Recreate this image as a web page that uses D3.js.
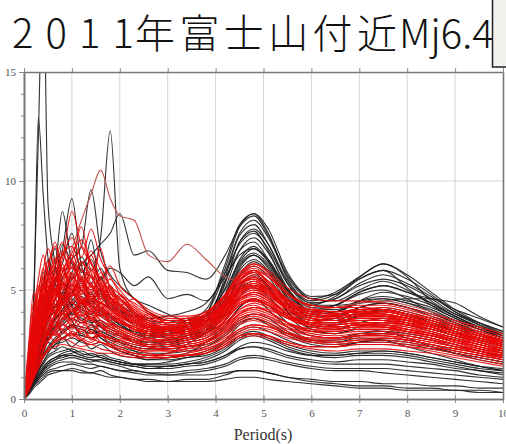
<!DOCTYPE html>
<html>
<head>
<meta charset="utf-8">
<script src="https://cdn.jsdelivr.net/npm/d3@7"></script>
<style>
  body { margin: 0; background: #fff; }
  svg { display: block; }
</style>
</head>
<body>
<svg width="506" height="444"></svg>
<script>
console.log('javascript sourced');

// period grid (s), shared by every spectrum
var periods = [0, 0.1, 0.2, 0.3, 0.4, 0.5, 0.65, 0.8,
  1.0, 1.2, 1.4, 1.6, 1.8, 2.0, 2.3, 2.6, 3.0,
  3.4, 3.8, 4.2, 4.5, 4.8, 5.1, 5.5, 6.0,
  6.5, 7.0, 7.5, 8.0, 8.5, 9.0, 9.5, 10];

var xTicks = [0, 1, 2, 3, 4, 5, 6, 7, 8, 9, 10];
var yTicks = [0, 5, 10, 15];
var yMinorTicks = [0, 1, 2, 3, 4, 5, 6, 7, 8, 9, 10, 11, 12, 13, 14, 15];

var titleParts = ['2011', '年富士山付近', 'Mj6.4'];
var xLabel = 'Period(s)';

// black traces
var blackSpectra = [
  [0,1.5,4.5,12,20,9,6.2,4.5, 3.6,3.0,3.4,2.8,2.5,2.2,2.0,1.8,1.9, 2.1,2.6,3.4,4.2,4.6,4.1,3.3,2.7, 2.6,2.8,2.7,2.4,2.1,1.8,1.5,1.3],
  [0,1.2,4.0,12.9,9.4,6.5,5.0,4.8, 3.9,4.2,3.5,3.1,2.9,2.6,2.2,2.0,2.1, 2.5,3.1,4.3,5.4,5.8,5.1,4.0,3.2, 3.0,3.2,3.1,2.8,2.4,2.1,1.8,1.6],
  [0,0.6,1.3,2.0,2.6,3.1,3.8,4.6, 5.8,6.5,5.9,7.4,12.3,6.0,4.6,4.3,3.9, 3.6,3.8,5.4,6.8,7.2,6.4,5.0,4.1, 4.3,4.8,5.0,4.6,4.0,3.5,3.0,2.6],
  [0,0.8,1.8,2.8,3.6,4.5,5.4,6.8, 9.2,6.1,5.3,6.0,5.1,4.6,3.9,3.6,3.2, 3.4,3.9,6.2,8.0,8.5,7.6,5.5,4.5, 4.8,5.6,6.2,5.7,4.9,4.1,3.5,3.0],
  [0,0.7,1.5,2.4,3.3,3.9,4.6,5.5, 6.4,7.0,9.6,6.8,5.7,5.2,4.6,4.0,3.6, 3.5,3.6,5.6,7.5,8.0,7.1,5.3,4.3, 4.7,5.5,5.9,5.5,4.8,4.0,3.4,2.9],
  [0,1.0,2.2,3.3,4.2,5.0,6.0,8.6, 6.3,5.9,5.6,4.9,4.6,4.1,3.6,3.3,3.0, 3.2,3.5,5.3,7.2,7.7,6.8,5.0,4.1, 4.3,4.9,5.2,4.9,4.4,3.8,3.3,2.9],
  [0,0.6,1.4,2.2,2.9,3.5,4.2,4.9, 5.5,6.2,6.6,7.1,7.6,8.5,6.6,6.8,5.9, 5.8,5.5,6.6,7.9,8.4,7.5,5.7,4.6, 4.5,5.0,5.4,5.0,4.4,3.8,3.3,2.9],
  [0,0.9,1.9,2.7,3.5,4.8,5.5,6.2, 7.6,5.8,6.4,5.5,6.0,5.8,5.2,5.6,4.6, 4.8,4.5,5.8,7.1,7.6,6.9,5.3,4.4, 4.6,5.2,5.5,5.2,4.6,3.9,3.4,3.0],
  [0,0.5,1.1,1.8,2.4,2.9,3.3,3.6, 4.0,4.4,4.0,3.8,3.5,3.3,3.1,3.0,3.1, 3.4,3.9,5.8,7.6,8.2,7.4,5.6,4.6, 4.9,5.6,6.2,5.6,4.5,3.9,3.5,3.1],
  [0,0.6,1.3,2.0,2.7,3.1,3.6,4.1, 4.6,4.2,4.5,4.1,3.8,3.6,3.2,3.1,3.3, 3.6,4.1,6.0,7.9,8.5,7.8,5.8,4.7, 4.8,5.5,5.9,5.1,4.3,3.7,3.3,3.0],
  [0,0.5,1.2,1.9,2.5,3.0,3.4,3.9, 4.3,4.7,4.3,4.0,3.7,3.4,3.0,2.9,3.0, 3.3,3.7,5.4,7.2,7.8,7.1,5.4,4.4, 4.6,5.3,5.7,5.3,4.7,4.0,3.5,3.1],
  [0,0.7,1.5,2.3,3.0,3.7,4.3,4.7, 5.2,5.0,4.6,4.8,4.2,3.9,3.5,3.3,3.2, 3.4,3.8,5.1,6.8,7.4,6.7,5.1,4.2, 4.3,4.9,5.2,4.9,4.6,4.4,3.8,3.3],
  [0,0.6,1.3,1.9,2.5,3.1,3.7,4.0, 4.4,4.1,3.9,4.2,3.8,3.5,3.0,2.8,2.9, 3.2,3.5,4.8,6.4,7.0,6.3,4.9,4.0, 4.0,4.5,4.7,4.5,4.2,3.7,3.2,2.8],
  [0,0.5,1.0,1.6,2.1,2.7,3.2,3.5, 3.9,3.7,3.5,3.6,3.3,3.1,2.8,2.6,2.7, 3.0,3.3,4.5,6.0,6.6,6.0,4.6,3.7, 3.6,4.0,4.2,4.0,3.7,3.3,2.9,2.6],
  [0,0.6,1.2,1.8,2.3,2.8,3.0,3.4, 3.7,3.5,3.6,3.3,3.1,2.9,2.6,2.5,2.6, 2.8,3.1,4.2,5.6,6.1,5.6,4.3,3.5, 3.5,3.9,4.1,3.9,3.5,3.1,2.7,2.4],
  [0,0.4,0.9,1.4,1.9,2.3,2.7,3.0, 3.3,3.2,3.0,3.1,2.9,2.7,2.5,2.4,2.5, 2.7,3.0,3.9,5.1,5.6,5.1,4.0,3.3, 3.2,3.5,3.7,3.6,3.3,2.9,2.6,2.3],
  [0,0.4,0.8,1.3,1.7,2.1,2.5,2.8, 3.0,2.9,2.8,2.9,2.7,2.6,2.4,2.3,2.4, 2.6,2.8,3.6,4.7,5.1,4.7,3.8,3.1, 3.0,3.3,3.5,3.4,3.1,2.8,2.5,2.2],
  [0,0.3,0.7,1.0,1.3,1.5,1.7,1.8, 1.9,1.8,1.7,1.8,1.7,1.6,1.5,1.4,1.4, 1.5,1.6,1.9,2.3,2.4,2.2,1.9,1.7, 1.6,1.6,1.6,1.5,1.4,1.3,1.1,1.0],
  [0,0.3,0.6,0.9,1.1,1.3,1.4,1.5, 1.6,1.5,1.4,1.5,1.4,1.3,1.2,1.1,1.1, 1.2,1.3,1.5,1.8,1.9,1.8,1.6,1.4, 1.3,1.3,1.2,1.1,1.0,0.9,0.8,0.7],
  [0,0.3,0.6,0.8,1.0,1.2,1.3,1.3, 1.4,1.3,1.2,1.3,1.1,1.0,0.9,0.9,0.8, 0.9,0.9,1.1,1.3,1.3,1.2,1.0,0.9, 0.8,0.8,0.7,0.7,0.6,0.6,0.5,0.5],
  [0,0.4,0.8,1.1,1.4,1.6,1.8,1.9, 2.0,1.9,1.8,1.7,1.6,1.5,1.3,1.2,1.1, 1.1,1.1,1.2,1.3,1.3,1.2,1.0,0.8, 0.7,0.6,0.6,0.5,0.5,0.4,0.4,0.3],
  [0,0.4,0.9,1.3,1.6,1.9,2.1,2.2, 2.3,2.1,2.0,2.1,1.9,1.8,1.6,1.5,1.5, 1.6,1.8,2.2,2.7,2.9,2.7,2.3,2.0, 1.9,2.0,2.0,1.9,1.7,1.5,1.3,1.2],
  [0,0.5,1.0,1.5,1.9,2.2,2.5,2.6, 2.8,2.6,2.5,2.6,2.4,2.2,2.0,1.9,1.9, 2.0,2.2,2.7,3.4,3.7,3.4,2.9,2.5, 2.4,2.6,2.7,2.6,2.4,2.1,1.9,1.7],
  [0,0.3,0.7,1.0,1.3,1.6,1.8,2.0, 2.1,2.2,2.0,1.9,1.8,1.7,1.6,1.6,1.7, 1.9,2.1,2.6,3.1,3.3,3.1,2.7,2.4, 2.4,2.6,2.8,2.7,2.5,2.2,2.0,1.8],
  [0,0.4,0.8,1.2,1.5,1.7,1.9,2.0, 2.0,1.9,1.8,1.8,1.7,1.6,1.5,1.4,1.5, 1.6,1.7,2.0,2.4,2.6,2.5,2.2,2.0, 2.0,2.1,2.2,2.1,1.9,1.7,1.5,1.3],
  [0,0.3,0.6,0.9,1.2,1.4,1.6,1.7, 1.7,1.6,1.6,1.5,1.4,1.3,1.3,1.2,1.2, 1.3,1.4,1.6,1.9,2.0,1.9,1.7,1.5, 1.4,1.4,1.4,1.3,1.2,1.1,1.0,0.9],
  [0,0.2,0.5,0.7,0.9,1.1,1.2,1.3, 1.3,1.2,1.2,1.1,1.0,1.0,0.9,0.8,0.8, 0.8,0.8,0.9,1.0,1.0,0.9,0.8,0.7, 0.6,0.5,0.5,0.4,0.4,0.4,0.3,0.3],
  [0,1.0,2.0,3.2,4.5,5.6,6.9,5.4, 5.0,4.4,4.9,4.1,3.8,3.4,3.1,2.9,2.8, 2.9,3.1,4.0,5.0,5.4,5.0,4.1,3.5, 3.5,3.8,4.0,3.8,3.5,3.1,2.8,2.5],
  [0,0.8,1.7,2.6,3.8,4.3,5.2,7.1, 6.2,5.5,7.3,5.0,4.4,4.0,3.5,3.3,3.1, 3.2,3.4,4.6,6.1,6.6,6.1,4.7,3.9, 4.0,4.5,4.9,4.7,4.3,3.8,3.3,2.9],
  [0,1.1,2.5,3.7,5.1,6.4,5.3,4.6, 5.6,5.0,4.3,3.9,3.6,3.3,3.0,2.8,2.7, 2.9,3.2,4.3,5.7,6.3,5.8,4.4,3.6, 3.7,4.2,4.4,4.2,3.8,3.4,3.0,2.7],
  [0,0.9,2.1,3.6,5.8,4.7,4.2,4.9, 4.3,4.0,3.7,3.5,3.2,3.0,2.7,2.6,2.6, 2.8,3.0,3.9,5.2,5.7,5.2,4.0,3.3, 3.4,3.8,4.1,3.9,3.6,3.2,2.9,2.6],
  [0,0.5,1.2,1.8,2.4,2.9,3.3,3.7, 4.0,4.3,4.6,4.4,4.2,4.0,3.8,3.7,3.8, 4.0,4.4,5.6,6.6,6.9,6.3,5.0,4.3, 4.3,4.4,4.5,4.6,4.6,4.1,3.7,3.3],
  [0,0.7,1.6,2.4,3.1,3.7,4.0,4.5, 4.9,5.3,4.8,5.6,4.6,4.3,3.9,3.6,3.5, 3.6,3.9,5.0,6.3,6.9,6.4,5.0,4.1, 4.1,4.5,4.6,4.4,4.1,3.6,3.2,2.9],
  [0,0.5,1.0,1.5,2.0,2.4,2.8,3.1, 3.4,3.3,3.2,3.0,2.8,2.6,2.4,2.3,2.3, 2.4,2.6,3.3,4.2,4.6,4.3,3.5,2.9, 2.8,3.0,3.1,3.0,2.8,2.5,2.2,2.0],
  [0,0.6,1.4,2.2,3.3,4.4,3.9,5.3, 4.2,3.6,3.9,3.3,3.0,2.9,2.6,2.4,2.3, 2.4,2.5,3.0,3.6,3.9,3.7,3.1,2.7, 2.7,2.9,3.0,2.9,2.7,2.4,2.2,1.9],
  [0,0.7,1.5,2.4,3.2,2.7,3.6,3.0, 3.4,2.9,3.2,2.8,2.6,2.4,2.2,2.1,2.1, 2.2,2.4,2.9,3.5,3.7,3.5,3.0,2.6, 2.5,2.6,2.6,2.5,2.3,2.1,1.9,1.7],
  [0,0.5,1.1,1.6,2.1,2.6,2.3,2.8, 2.4,2.7,2.3,2.5,2.2,2.0,1.9,1.8,1.8, 1.9,2.0,2.4,2.9,3.1,2.9,2.5,2.2, 2.1,2.2,2.2,2.1,1.9,1.7,1.5,1.4],
  [0,1.0,2.1,3.0,3.9,4.6,5.3,4.4, 4.8,5.5,4.7,5.0,4.4,4.1,3.7,3.4,3.2, 3.3,3.6,4.8,6.2,6.7,6.2,4.8,4.0, 4.0,4.4,4.6,4.4,4.0,3.6,3.2,2.8],
  [0,0.4,0.9,1.3,1.7,2.0,2.2,2.4, 2.2,2.0,2.1,1.9,1.8,1.7,1.6,1.6,1.6, 1.7,1.9,2.3,2.8,3.0,2.8,2.4,2.1, 2.0,2.1,2.1,2.0,1.8,1.6,1.4,1.3],
  [0,0.6,1.3,2.0,2.6,3.2,3.7,4.1, 4.5,5.0,4.4,4.7,4.1,3.8,3.4,3.2,3.1, 3.2,3.5,4.6,5.9,6.4,5.9,4.6,3.8, 3.8,4.2,4.4,4.2,3.9,3.5,3.1,2.8],
  [0,0.3,0.7,1.1,1.4,1.7,1.9,2.1, 2.2,2.0,1.9,2.0,1.8,1.7,1.6,1.5,1.5, 1.6,1.7,2.0,2.3,2.4,2.3,2.0,1.8, 1.7,1.8,1.8,1.7,1.6,1.4,1.3,1.1]
];

// faded dark-red traces
var darkRedSpectra = [
  [0,0.8,1.7,2.6,3.4,4.1,4.9,5.8, 6.9,8.2,9.4,10.5,9.2,8.4,8.2,6.6,6.3, 7.1,6.4,5.6,5.4,5.1,4.7,4.3,4.1, 4.2,4.4,4.5,4.3,4.0,3.6,3.3,3.0]
];

// red traces
var redSpectra = [
  [0,1.0,2.1,3.0,3.9,4.6,5.5,6.4, 8.6,7.0,6.2,5.5,5.0,4.6,4.0,3.7,3.5, 3.6,3.9,4.8,5.6,5.9,5.3,4.4,3.9, 3.8,3.9,3.9,3.7,3.4,3.1,2.8,2.5],
  [0,1.3,2.7,3.9,5.1,6.0,7.2,5.9, 6.4,7.9,5.8,5.2,4.7,4.2,3.7,3.4,3.3, 3.4,3.7,4.5,5.3,5.5,5.0,4.2,3.7, 3.6,3.7,3.7,3.5,3.2,2.9,2.6,2.3],
  [0,1.6,3.2,4.4,5.6,4.8,6.1,5.2, 5.7,5.0,6.6,5.3,4.5,4.0,3.6,3.3,3.1, 3.2,3.4,4.1,4.9,5.2,4.8,4.1,3.6, 3.5,3.6,3.6,3.4,3.1,2.8,2.5,2.2],
  [0,1.1,2.4,3.5,4.3,5.2,4.6,6.7, 5.5,6.0,5.1,6.9,4.9,4.4,3.9,3.5,3.2, 3.3,3.6,4.4,5.4,5.9,5.4,4.5,3.9, 3.8,3.9,3.8,3.6,3.3,3.0,2.7,2.4],
  [0,0.9,1.9,2.8,3.6,4.2,5.0,4.6, 5.4,4.8,5.6,4.7,5.2,4.3,3.8,3.4,3.2, 3.2,3.5,4.2,5.0,5.3,4.9,4.1,3.6, 3.6,3.7,3.7,3.5,3.2,2.9,2.6,2.3],
  [0,1.4,2.9,4.0,4.9,4.2,5.3,4.5, 4.9,4.4,4.8,4.2,3.9,3.6,3.2,3.0,2.9, 3.0,3.3,4.0,4.7,5.0,4.6,3.9,3.5, 3.4,3.5,3.5,3.3,3.0,2.7,2.4,2.1],
  [0,0.7,1.5,2.3,3.0,3.7,4.5,5.2, 6.1,5.5,4.9,5.8,4.6,4.2,3.7,3.3,3.0, 3.0,3.2,3.8,4.5,4.8,4.5,3.9,3.4, 3.3,3.4,3.4,3.2,2.9,2.6,2.3,2.0],
  [0,1.2,2.6,3.3,3.9,4.5,3.9,4.4, 4.0,4.6,4.1,3.8,4.3,3.7,3.3,3.0,2.8, 2.8,3.0,3.6,4.3,4.6,4.3,3.7,3.3, 3.2,3.3,3.3,3.1,2.9,2.6,2.3,2.1],
  [0,0.8,1.6,2.5,3.2,3.6,4.1,3.7, 4.2,3.8,4.0,3.6,3.4,3.2,2.9,2.7,2.6, 2.7,2.9,3.5,4.1,4.3,4.0,3.5,3.1, 3.1,3.2,3.2,3.0,2.8,2.5,2.2,2.0],
  [0,1.8,3.5,4.6,3.9,5.0,4.3,3.9, 4.4,3.9,3.6,3.9,3.5,3.3,3.0,2.8,2.7, 2.8,3.1,3.8,4.6,4.9,4.6,3.9,3.4, 3.3,3.4,3.3,3.1,2.8,2.5,2.2,1.9],
  [0,0.6,1.3,2.0,2.6,3.1,3.6,3.9, 3.6,4.1,3.7,3.4,3.2,3.0,2.7,2.5,2.4, 2.5,2.7,3.2,3.8,4.0,3.8,3.3,3.0, 2.9,3.0,3.0,2.9,2.7,2.4,2.2,1.9],
  [0,0.5,1.1,1.7,2.3,2.7,3.1,3.4, 3.2,3.5,3.1,2.9,2.8,2.6,2.4,2.3,2.3, 2.4,2.6,3.0,3.5,3.7,3.5,3.1,2.8, 2.8,2.9,2.9,2.8,2.6,2.4,2.1,1.9],
  [0,2.0,3.8,3.2,4.2,3.6,3.3,3.7, 3.4,3.1,3.3,3.0,2.8,2.7,2.5,2.4,2.4, 2.5,2.7,3.2,3.9,4.2,4.0,3.5,3.1, 3.0,3.1,3.1,2.9,2.7,2.5,2.2,2.0],
  [0,1.0,2.2,3.0,3.5,3.0,3.5,3.1, 2.9,3.2,2.8,2.6,2.5,2.4,2.3,2.2,2.3, 2.4,2.6,3.1,3.7,3.9,3.7,3.3,2.9, 2.8,2.9,2.9,2.7,2.5,2.3,2.1,1.8],
  [0,0.7,1.4,2.1,2.6,2.9,3.1,2.8, 3.0,2.7,2.5,2.6,2.4,2.2,2.1,2.0,2.1, 2.3,2.5,2.9,3.4,3.6,3.4,3.0,2.7, 2.6,2.7,2.7,2.6,2.4,2.2,2.0,1.8],
  [0,1.5,3.0,4.2,5.4,6.3,5.4,5.9, 5.0,5.6,5.2,4.6,4.8,4.5,4.0,3.6,3.4, 3.5,3.8,4.6,5.6,6.1,5.7,4.8,4.2, 4.0,4.0,3.9,3.7,3.4,3.1,2.8,2.6],
  [0,1.2,2.6,3.8,4.7,5.5,6.5,5.6, 6.0,5.4,5.0,5.3,4.6,4.3,3.8,3.5,3.3, 3.3,3.6,4.3,5.2,5.6,5.2,4.5,4.0, 3.9,4.0,4.0,3.8,3.5,3.2,2.9,2.6],
  [0,0.9,2.0,3.1,4.0,4.8,5.3,6.0, 5.2,6.3,5.6,5.0,5.5,4.8,4.2,3.8,3.6, 3.6,3.9,4.7,5.5,5.8,5.4,4.6,4.1, 4.0,4.1,4.1,3.9,3.6,3.3,3.0,2.7],
  [0,1.3,2.8,4.1,5.0,5.9,5.0,4.4, 4.9,4.3,4.6,4.0,3.7,3.5,3.2,3.1,3.1, 3.3,3.6,4.3,5.0,5.2,4.9,4.2,3.8, 3.7,3.8,3.8,3.6,3.4,3.1,2.8,2.5],
  [0,1.0,2.0,2.9,3.6,4.2,4.8,5.4, 4.7,5.2,4.5,4.9,4.2,3.9,3.5,3.2,3.0, 3.1,3.4,4.0,4.6,4.9,4.7,4.1,3.7, 3.6,3.7,3.7,3.6,3.3,3.0,2.7,2.5],
  [0,0.6,1.3,2.0,2.6,3.2,3.8,4.3, 4.8,4.4,4.7,4.3,3.9,4.1,3.6,3.3,3.1, 3.1,3.3,3.9,4.5,4.7,4.4,3.8,3.5, 3.5,3.6,3.6,3.4,3.2,2.9,2.7,2.4],
  [0,0.4,0.9,1.4,1.9,2.3,2.7,3.0, 3.3,3.0,2.8,3.0,2.7,2.5,2.3,2.2,2.2, 2.3,2.4,2.8,3.2,3.4,3.3,3.0,2.8, 2.8,2.9,3.0,2.9,2.7,2.5,2.3,2.1],
  [0,0.5,1.0,1.5,1.9,2.2,2.4,2.5, 2.4,2.3,2.2,2.1,2.1,2.0,1.9,1.9,1.9, 2.0,2.2,2.6,3.0,3.2,3.1,2.8,2.6, 2.6,2.7,2.8,2.7,2.5,2.3,2.1,1.9],
  [0,0.8,1.8,2.7,3.4,3.9,4.3,4.7, 4.2,3.8,4.1,3.6,3.3,3.1,2.8,2.6,2.5, 2.6,2.8,3.3,3.9,4.2,4.1,3.7,3.4, 3.3,3.4,3.4,3.3,3.1,2.8,2.6,2.3],
  [0,2.3,4.4,3.8,4.8,4.1,4.6,3.8, 4.1,3.6,3.4,3.3,3.1,2.9,2.7,2.5,2.5, 2.6,2.8,3.4,4.1,4.4,4.2,3.7,3.3, 3.2,3.3,3.3,3.1,2.9,2.6,2.4,2.1],
  [0,1.1,2.3,3.4,4.4,5.3,6.1,6.8, 5.7,6.3,5.3,4.8,4.4,4.1,3.7,3.4,3.2, 3.3,3.5,4.2,5.0,5.3,5.0,4.3,3.9, 3.9,4.1,4.2,4.0,3.7,3.4,3.1,2.8],
  [0,1.7,3.4,4.9,6.0,5.1,5.7,5.0, 5.3,4.6,4.3,4.0,3.7,3.5,3.2,3.0,2.9, 3.0,3.2,3.8,4.4,4.6,4.3,3.8,3.4, 3.3,3.4,3.3,3.1,2.9,2.6,2.4,2.1],
  [0,0.7,1.6,2.5,3.4,4.1,4.9,5.6, 6.4,5.4,6.0,5.1,4.6,4.2,3.7,3.4,3.2, 3.2,3.5,4.2,4.9,5.2,4.9,4.3,3.9, 3.8,3.9,3.9,3.7,3.4,3.1,2.8,2.5],
  [0,0.9,1.9,2.7,3.3,3.8,4.2,4.6, 5.1,4.7,4.3,4.6,4.1,3.8,3.4,3.2,3.1, 3.2,3.4,4.1,4.8,5.1,4.8,4.2,3.8, 3.7,3.8,3.8,3.7,3.4,3.1,2.9,2.6],
  [0,1.0,2.1,3.1,4.0,4.9,5.8,6.6, 7.4,6.5,7.8,6.4,5.6,5.0,4.3,3.9,3.6, 3.6,3.8,4.5,5.3,5.6,5.2,4.5,4.0, 3.9,4.0,4.0,3.8,3.5,3.2,2.9,2.6],
  [0,1.2,2.4,3.6,4.6,5.5,6.3,7.2, 6.0,7.0,6.2,5.4,4.9,4.6,4.1,3.7,3.5, 3.5,3.7,4.4,5.1,5.4,5.1,4.4,4.0, 3.9,4.0,4.0,3.8,3.5,3.2,2.9,2.6],
  [0,0.8,1.7,2.5,3.3,4.0,4.6,5.1, 5.6,5.0,4.6,4.4,4.1,3.8,3.5,3.3,3.3, 3.5,3.9,4.8,5.8,6.2,5.9,5.1,4.6, 4.5,4.5,4.4,4.2,3.9,3.6,3.3,3.0],
  [0,0.6,1.3,2.0,2.7,3.3,3.9,4.4, 4.9,4.5,4.2,4.0,3.8,3.6,3.3,3.1,3.0, 3.1,3.3,4.0,4.8,5.2,5.0,4.4,4.0, 4.0,4.1,4.1,3.9,3.7,3.4,3.1,2.8],
  [0,1.4,2.9,4.3,5.5,4.6,5.0,4.1, 3.7,4.0,3.6,3.4,3.2,3.0,2.8,2.7,2.7, 2.8,3.0,3.6,4.3,4.5,4.3,3.8,3.5, 3.4,3.5,3.5,3.4,3.2,2.9,2.7,2.4],
  [0,0.5,1.1,1.6,2.0,2.3,2.6,2.8, 2.6,2.4,2.5,2.3,2.2,2.1,2.0,1.9,1.9, 2.0,2.1,2.5,2.9,3.0,2.9,2.6,2.4, 2.4,2.5,2.5,2.4,2.3,2.1,1.9,1.7],
  [0,1.9,3.6,5.2,4.3,5.8,4.9,6.2, 4.8,5.9,4.6,5.3,4.2,4.6,3.9,3.5,3.3, 3.4,3.6,4.3,5.1,5.4,5.0,4.2,3.7, 3.6,3.7,3.6,3.4,3.2,2.9,2.6,2.3],
  [0,0.9,2.2,2.9,4.1,3.4,4.6,3.9, 5.1,4.2,5.3,4.4,4.9,3.9,3.6,3.9,3.4, 3.2,3.4,4.0,4.6,4.9,4.6,4.0,3.6, 3.5,3.6,3.6,3.5,3.3,3.0,2.8,2.5],
  [0,1.4,2.5,3.7,3.0,4.0,3.3,4.3, 3.5,4.5,3.6,4.2,3.4,3.7,3.1,3.3,2.9, 2.8,3.0,3.5,4.0,4.2,4.0,3.5,3.2, 3.2,3.3,3.3,3.2,3.0,2.8,2.5,2.3],
  [0,2.6,4.9,4.1,5.3,4.4,5.6,4.6, 5.0,4.1,4.5,3.8,4.0,3.5,3.3,3.1,3.0, 3.1,3.3,3.9,4.6,4.8,4.5,3.9,3.5, 3.4,3.5,3.4,3.2,3.0,2.7,2.5,2.2],
  [0,0.7,1.6,2.6,3.5,4.4,5.6,4.8, 6.3,5.1,5.7,4.6,5.1,4.3,4.6,3.9,3.6, 3.7,4.0,4.8,5.7,6.2,5.8,4.9,4.3, 4.2,4.2,4.1,3.9,3.6,3.3,3.0,2.7],
  [0,1.1,2.3,3.3,2.8,3.8,3.1,4.0, 3.3,3.9,3.0,3.5,2.8,3.1,2.6,2.8,2.5, 2.4,2.6,3.1,3.6,3.8,3.6,3.2,2.9, 2.8,2.9,2.9,2.8,2.6,2.4,2.2,2.0],
  [0,1.6,3.1,4.5,3.8,5.0,6.4,5.2, 5.8,4.9,5.9,5.0,4.4,4.7,4.1,3.7,3.5, 3.5,3.7,4.4,5.2,5.5,5.2,4.4,4.0, 3.9,4.0,4.0,3.8,3.5,3.2,2.9,2.6],
  [0,0.5,1.2,1.9,2.5,3.0,3.6,3.2, 3.7,3.3,3.8,3.1,3.4,2.9,2.6,2.4,2.2, 2.2,2.3,2.7,3.1,3.3,3.2,2.9,2.6, 2.5,2.6,2.6,2.5,2.4,2.2,2.0,1.8],
  [0,1.3,2.7,3.6,4.8,4.0,5.1,4.3, 4.7,5.4,4.5,5.0,4.3,4.0,3.6,3.3,3.2, 3.3,3.6,4.4,5.3,5.7,5.3,4.5,4.0, 3.9,4.0,3.9,3.7,3.4,3.1,2.8,2.6],
  [0,2.2,4.1,5.5,6.6,5.6,4.8,5.3, 4.5,4.1,4.4,3.8,3.5,3.3,3.0,2.9,2.8, 2.9,3.1,3.7,4.3,4.5,4.3,3.8,3.4, 3.3,3.4,3.4,3.2,3.0,2.7,2.5,2.2],
  [0,0.8,1.8,2.7,3.5,2.9,3.9,4.5, 3.8,4.4,3.7,4.1,3.5,3.2,2.9,2.7,2.6, 2.7,2.9,3.4,3.9,4.1,3.9,3.5,3.2, 3.1,3.2,3.2,3.1,2.9,2.7,2.4,2.2],
  [0,1.0,2.0,3.1,4.2,5.0,5.8,6.6, 7.0,6.1,6.8,5.9,5.2,4.8,4.4,4.0,3.7, 3.7,3.9,4.7,5.6,6.0,5.6,4.8,4.3, 4.2,4.2,4.1,3.9,3.6,3.3,3.0,2.7],
  [0,0.6,1.4,2.1,2.8,3.4,2.9,3.5, 3.0,2.7,3.1,2.6,2.4,2.3,2.1,2.0,1.9, 2.0,2.1,2.5,2.9,3.0,2.9,2.6,2.4, 2.4,2.5,2.5,2.4,2.2,2.0,1.8,1.6],
  [0,1.7,3.3,4.0,3.4,4.5,3.7,4.8, 4.0,4.6,3.9,4.4,3.6,3.9,3.4,3.2,3.0, 3.0,3.2,3.8,4.4,4.6,4.4,3.9,3.5, 3.5,3.6,3.6,3.5,3.3,3.0,2.8,2.5],
  [0,1.2,2.5,3.8,5.0,6.1,7.0,6.0, 6.6,5.6,5.0,5.5,4.7,4.3,3.8,3.5,3.3, 3.4,3.6,4.3,5.0,5.3,5.0,4.3,3.9, 3.8,3.8,3.8,3.6,3.3,3.0,2.8,2.5],
  [0,0.4,1.0,1.6,2.2,2.7,3.2,3.6, 4.0,3.5,3.9,3.4,3.0,2.8,2.6,2.4,2.3, 2.4,2.6,3.1,3.7,3.9,3.8,3.4,3.1, 3.1,3.2,3.2,3.1,2.9,2.7,2.4,2.2],
  [0,1.5,3.0,4.1,3.5,4.7,5.5,4.7, 5.3,4.5,4.9,4.1,4.6,3.8,3.5,3.2,3.1, 3.2,3.5,4.2,4.9,5.1,4.8,4.1,3.7, 3.6,3.7,3.7,3.5,3.3,3.0,2.7,2.4],
  [0,0.9,1.9,2.9,3.8,4.6,4.0,5.1, 4.4,5.0,4.2,3.8,4.1,3.6,3.2,2.9,2.8, 2.9,3.1,3.7,4.3,4.5,4.3,3.8,3.4, 3.4,3.5,3.5,3.4,3.2,2.9,2.7,2.4],
  [0,2.0,3.9,5.0,5.9,6.9,5.9,5.1, 5.5,4.8,5.2,4.5,4.1,3.8,3.5,3.3,3.2, 3.3,3.5,4.1,4.8,5.1,4.9,4.3,3.9, 3.8,3.9,3.9,3.7,3.5,3.2,2.9,2.7],
  [0,0.7,1.5,2.4,3.2,3.9,4.7,5.4, 6.0,5.3,4.7,5.1,4.4,4.8,4.0,3.6,3.4, 3.4,3.7,4.5,5.4,5.8,5.4,4.6,4.1, 4.0,4.1,4.1,3.9,3.6,3.3,3.0,2.7],
  [0,1.1,2.1,2.7,2.3,3.0,2.6,3.2, 2.8,3.3,2.7,3.0,2.5,2.7,2.3,2.1,2.0, 2.0,2.1,2.4,2.8,2.9,2.8,2.5,2.3, 2.2,2.3,2.3,2.2,2.1,1.9,1.7,1.5],
  [0,1.3,2.8,4.0,5.2,4.4,3.9,4.6, 5.2,4.5,4.0,4.4,3.9,3.6,3.3,3.1,3.0, 3.1,3.4,4.0,4.7,5.0,4.8,4.2,3.8, 3.7,3.8,3.8,3.6,3.4,3.1,2.8,2.6],
  [0,0.8,1.7,2.6,3.4,4.2,5.0,5.8, 6.7,7.3,6.3,5.6,6.1,5.2,4.6,4.1,3.8, 3.8,4.0,4.7,5.5,5.9,5.6,4.8,4.3, 4.2,4.3,4.3,4.1,3.8,3.5,3.2,2.9],
  [0,0.5,1.1,1.7,2.2,2.6,3.0,2.7, 3.1,2.8,2.6,2.9,2.5,2.3,2.1,2.0,2.0, 2.1,2.3,2.7,3.2,3.4,3.3,3.0,2.7, 2.7,2.8,2.8,2.7,2.5,2.3,2.1,1.9]
];

var svg = d3.select("svg"),
    width = 506,
    height = 444;

var plotLeft = 24, plotRight = 503, plotTop = 72, plotBottom = 399;

var x = d3.scaleLinear().domain([0, 10]).range([plotLeft, plotRight]);
var y = d3.scaleLinear().domain([0, 15]).range([plotBottom, plotTop]);

// title
var title = svg.append("text")
    .attr("y", 48)
    .attr("font-family", "'Noto Sans CJK JP', 'Noto Sans', sans-serif")
    .attr("font-size", 40)
    .attr("font-weight", 300)
    .attr("fill", "#111");
title.append("tspan").attr("x", 12).attr("textLength", 122).attr("lengthAdjust", "spacing").text(titleParts[0]);
title.append("tspan").attr("x", 135).attr("textLength", 262).attr("lengthAdjust", "spacing").text(titleParts[1]);
title.append("tspan").attr("x", 399).text(titleParts[2]);

// grid
var grid = svg.append("g").attr("class", "grid");
grid.selectAll("line.vx")
    .data(xTicks.slice(1, -1))
    .enter().append("line")
      .attr("class", "vx")
      .attr("x1", function(d) { return x(d); })
      .attr("x2", function(d) { return x(d); })
      .attr("y1", plotTop)
      .attr("y2", plotBottom)
      .attr("stroke", "#d4d4d4")
      .attr("stroke-width", 1);
grid.selectAll("line.hy")
    .data(yTicks.slice(1, -1))
    .enter().append("line")
      .attr("class", "hy")
      .attr("x1", plotLeft)
      .attr("x2", plotRight)
      .attr("y1", function(d) { return y(d); })
      .attr("y2", function(d) { return y(d); })
      .attr("stroke", "#d4d4d4")
      .attr("stroke-width", 1);

// clip so the big spike is cut at 15
svg.append("clipPath").attr("id", "plotClip")
  .append("rect")
    .attr("x", plotLeft)
    .attr("y", plotTop)
    .attr("width", plotRight - plotLeft)
    .attr("height", plotBottom - plotTop);

var line = d3.line()
    .x(function(d, i) { return x(periods[i]); })
    .y(function(d) { return y(d); })
    .curve(d3.curveMonotoneX);

var traces = svg.append("g").attr("clip-path", "url(#plotClip)").attr("fill", "none");

traces.append("g").selectAll("path")
    .data(blackSpectra)
    .enter().append("path")
      .attr("d", line)
      .attr("stroke", "#1c1c1c")
      .attr("stroke-opacity", 0.9)
      .attr("stroke-width", 1.1);

traces.append("g").selectAll("path")
    .data(darkRedSpectra)
    .enter().append("path")
      .attr("d", line)
      .attr("stroke", "#c0504d")
      .attr("stroke-width", 1.1);

traces.append("g").selectAll("path")
    .data(redSpectra)
    .enter().append("path")
      .attr("d", line)
      .attr("stroke", "#e80808")
      .attr("stroke-opacity", 0.9)
      .attr("stroke-width", 1.1);

// axes
function styleAxis(g) {
  g.select(".domain").attr("stroke", "#777").attr("stroke-width", 1.6);
  g.selectAll(".tick line").attr("stroke", "#888");
  g.selectAll(".tick text")
      .attr("fill", "#555")
      .attr("font-family", "'Liberation Serif', 'Times New Roman', serif")
      .attr("font-size", 11);
}

svg.append("g")
    .attr("transform", "translate(0," + plotBottom + ")")
    .call(d3.axisBottom(x).tickValues(xTicks).tickSize(4).tickPadding(6).tickSizeOuter(0))
    .call(styleAxis);

svg.append("g")
    .attr("transform", "translate(0," + plotBottom + ")")
    .call(d3.axisTop(x).tickValues(xTicks).tickSize(4).tickFormat("").tickSizeOuter(0))
    .call(styleAxis);

svg.append("g")
    .attr("transform", "translate(0," + plotTop + ")")
    .call(d3.axisTop(x).tickValues(xTicks).tickSize(4).tickFormat("").tickSizeOuter(0))
    .call(styleAxis);

svg.append("g")
    .attr("transform", "translate(" + plotLeft + ",0)")
    .call(d3.axisLeft(y).tickValues(yMinorTicks).tickSize(3).tickFormat("").tickSizeOuter(0))
    .call(styleAxis);

svg.append("g")
    .attr("transform", "translate(" + plotLeft + ",0)")
    .call(d3.axisLeft(y).tickValues(yTicks).tickSize(5).tickPadding(3).tickSizeOuter(0))
    .call(styleAxis);

svg.append("g")
    .attr("transform", "translate(" + plotRight + ",0)")
    .call(d3.axisRight(y).tickValues(yTicks).tickSize(0).tickFormat("").tickSizeOuter(0))
    .call(styleAxis);

svg.append("text")
    .attr("x", 263)
    .attr("y", 440)
    .attr("text-anchor", "middle")
    .attr("font-family", "'Liberation Serif', 'Times New Roman', serif")
    .attr("font-size", 16)
    .attr("fill", "#333")
    .text(xLabel);

// small map thumbnail in the corner
svg.append("rect")
    .attr("x", 492.5)
    .attr("y", -1)
    .attr("width", 15)
    .attr("height", 68)
    .attr("fill", "#f3f1ee")
    .attr("stroke", "#222")
    .attr("stroke-width", 1.5);
</script>
</body>
</html>
